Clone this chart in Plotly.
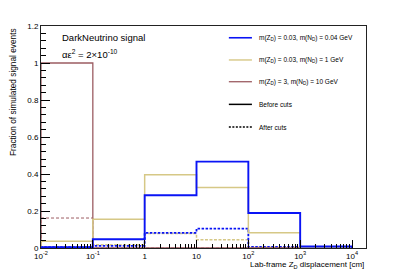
import plotly.graph_objects as go

# Bin edges (cm) for lab-frame Z_D displacement
bin_edges = [0.01, 0.1, 1, 10, 100, 1000, 10000]

# Fractions of simulated signal events per bin
blue_before = [0.005, 0.047, 0.285, 0.467, 0.189, 0.008]
blue_after = [0.004, 0.012, 0.082, 0.105, 0.006, 0.002]
yellow_before = [0.036, 0.156, 0.396, 0.327, 0.082, 0.003]
yellow_after = [0.003, 0.018, 0.078, 0.045, 0.004, 0.001]
brown_before = [1.0, 0.0, 0.0, 0.0, 0.0, 0.0]
brown_after = [0.162, 0.0, 0.0, 0.0, 0.0, 0.0]

legend_labels = [
    "m(Z<sub>D</sub>) = 0.03, m(N<sub>D</sub>) = 0.04 GeV",
    "m(Z<sub>D</sub>) = 0.03, m(N<sub>D</sub>) = 1 GeV",
    "m(Z<sub>D</sub>) = 3, m(N<sub>D</sub>) = 10 GeV",
    "Before cuts",
    "After cuts",
]

x_tickvals = [0.01, 0.1, 1, 10, 100, 1000, 10000]
x_ticktext = ["10<sup>-2</sup>", "10<sup>-1</sup>", "1", "10", "10<sup>2</sup>", "10<sup>3</sup>", "10<sup>4</sup>"]
y_tickvals = [0, 0.2, 0.4, 0.6, 0.8, 1.0, 1.2]
y_ticktext = ["0", "0.2", "0.4", "0.6", "0.8", "1", "1.2"]

BLUE = "#0a14f5"
YELLOW = "#d6c886"
BROWN = "#9c5c62"
FONT = "Liberation Sans, Arial, sans-serif"


def step_xy(edges, vals):
    xs = [edges[0]] + list(edges)
    ys = [0] + list(vals) + [0]
    return xs, ys


fig = go.Figure()

series = [
    (yellow_after, YELLOW, 1.5, "3px,1.5px"),
    (blue_after, BLUE, 1.8, "2.5px,1.5px"),
    (brown_after, BROWN, 1.0, "3px,2px"),
    (brown_before, BROWN, 1.3, "solid"),
    (yellow_before, YELLOW, 1.5, "solid"),
    (blue_before, BLUE, 1.9, "solid"),
]
for vals, col, w, dash in series:
    xs, ys = step_xy(bin_edges, vals)
    fig.add_trace(go.Scatter(
        x=xs, y=ys, mode="lines", line=dict(color=col, width=w, dash=dash, shape="hv"),
        showlegend=False, hoverinfo="skip",
    ))

# minor ticks on the log x axis
minor_x = []
for d in [0.01, 0.1, 1, 10, 100, 1000]:
    for m in range(2, 10):
        minor_x.append(d * m)
for m in range(2, 10):
    if 10000 * m < 10 ** 4.27:
        minor_x.append(10000 * m)

minor_y = [i * 0.04 for i in range(0, 31)]

# The page body adds an 8px offset at the top-left; the figure is sized to fit the window.
fig.update_layout(
    width=399, height=268,
    margin=dict(l=33, r=41, t=18, b=28),
    paper_bgcolor="white", plot_bgcolor="white",
    font=dict(family=FONT, size=8, color="black"),
    showlegend=False,
    xaxis=dict(
        type="log", range=[-2, 4.27],
        tickmode="array", tickvals=x_tickvals, ticktext=x_ticktext,
        ticks="inside", ticklen=8, tickwidth=1, tickcolor="black",
        minor=dict(tickmode="array", tickvals=minor_x, ticks="inside", ticklen=4, tickwidth=1, tickcolor="black"),
        showline=True, linecolor="#222222", linewidth=1, mirror=True,
        showgrid=False, zeroline=False,
        tickfont=dict(size=8, family=FONT),
    ),
    yaxis=dict(
        range=[0, 1.2],
        tickmode="array", tickvals=y_tickvals, ticktext=y_ticktext,
        ticks="inside", ticklen=9, tickwidth=1, tickcolor="black",
        minor=dict(tickmode="array", tickvals=minor_y, ticks="inside", ticklen=4.5, tickwidth=1, tickcolor="black"),
        showline=True, linecolor="#222222", linewidth=1, mirror=True,
        showgrid=False, zeroline=False,
        tickfont=dict(size=8, family=FONT),
    ),
)

# Axis titles
fig.add_annotation(
    text="Lab-frame Z<sub>D</sub> displacement [cm]", xref="paper", yref="paper",
    x=1.0, y=-0.078, xanchor="right", yanchor="middle", showarrow=False,
    font=dict(size=8, family=FONT),
)
fig.add_annotation(
    text="Fraction of simulated signal events", xref="paper", yref="paper",
    x=-0.086, y=1.0, xanchor="center", yanchor="top", textangle=-90, showarrow=False,
    font=dict(size=8.3, family=FONT),
)

# Text labels
fig.add_annotation(
    text="DarkNeutrino signal", xref="paper", yref="paper",
    x=0.058, y=0.948, xanchor="left", yanchor="middle", showarrow=False,
    font=dict(size=9.5, family=FONT),
)
fig.add_annotation(
    text="αε<sup>2</sup> = 2×10<sup>-10</sup>", xref="paper", yref="paper",
    x=0.058, y=0.872, xanchor="left", yanchor="middle", showarrow=False,
    font=dict(size=9.5, family=FONT),
)

# Legend (manual, ROOT-style)
leg_colors = [BLUE, YELLOW, BROWN, "black", "black"]
leg_widths = [1.6, 1.4, 1.3, 1.5, 1.5]
leg_dash = ["solid", "solid", "solid", "solid", "2px,1.5px"]
leg_y = [0.947, 0.847, 0.749, 0.647, 0.545]
for lab, c, w, ds, yy in zip(legend_labels, leg_colors, leg_widths, leg_dash, leg_y):
    fig.add_shape(type="line", xref="paper", yref="paper", x0=0.578, x1=0.649, y0=yy, y1=yy,
                  line=dict(color=c, width=w, dash=ds))
    fig.add_annotation(text=lab, xref="paper", yref="paper", x=0.664, y=yy,
                       xanchor="left", yanchor="middle", showarrow=False,
                       font=dict(size=6.5, family=FONT))

fig.write_html("out.html")
